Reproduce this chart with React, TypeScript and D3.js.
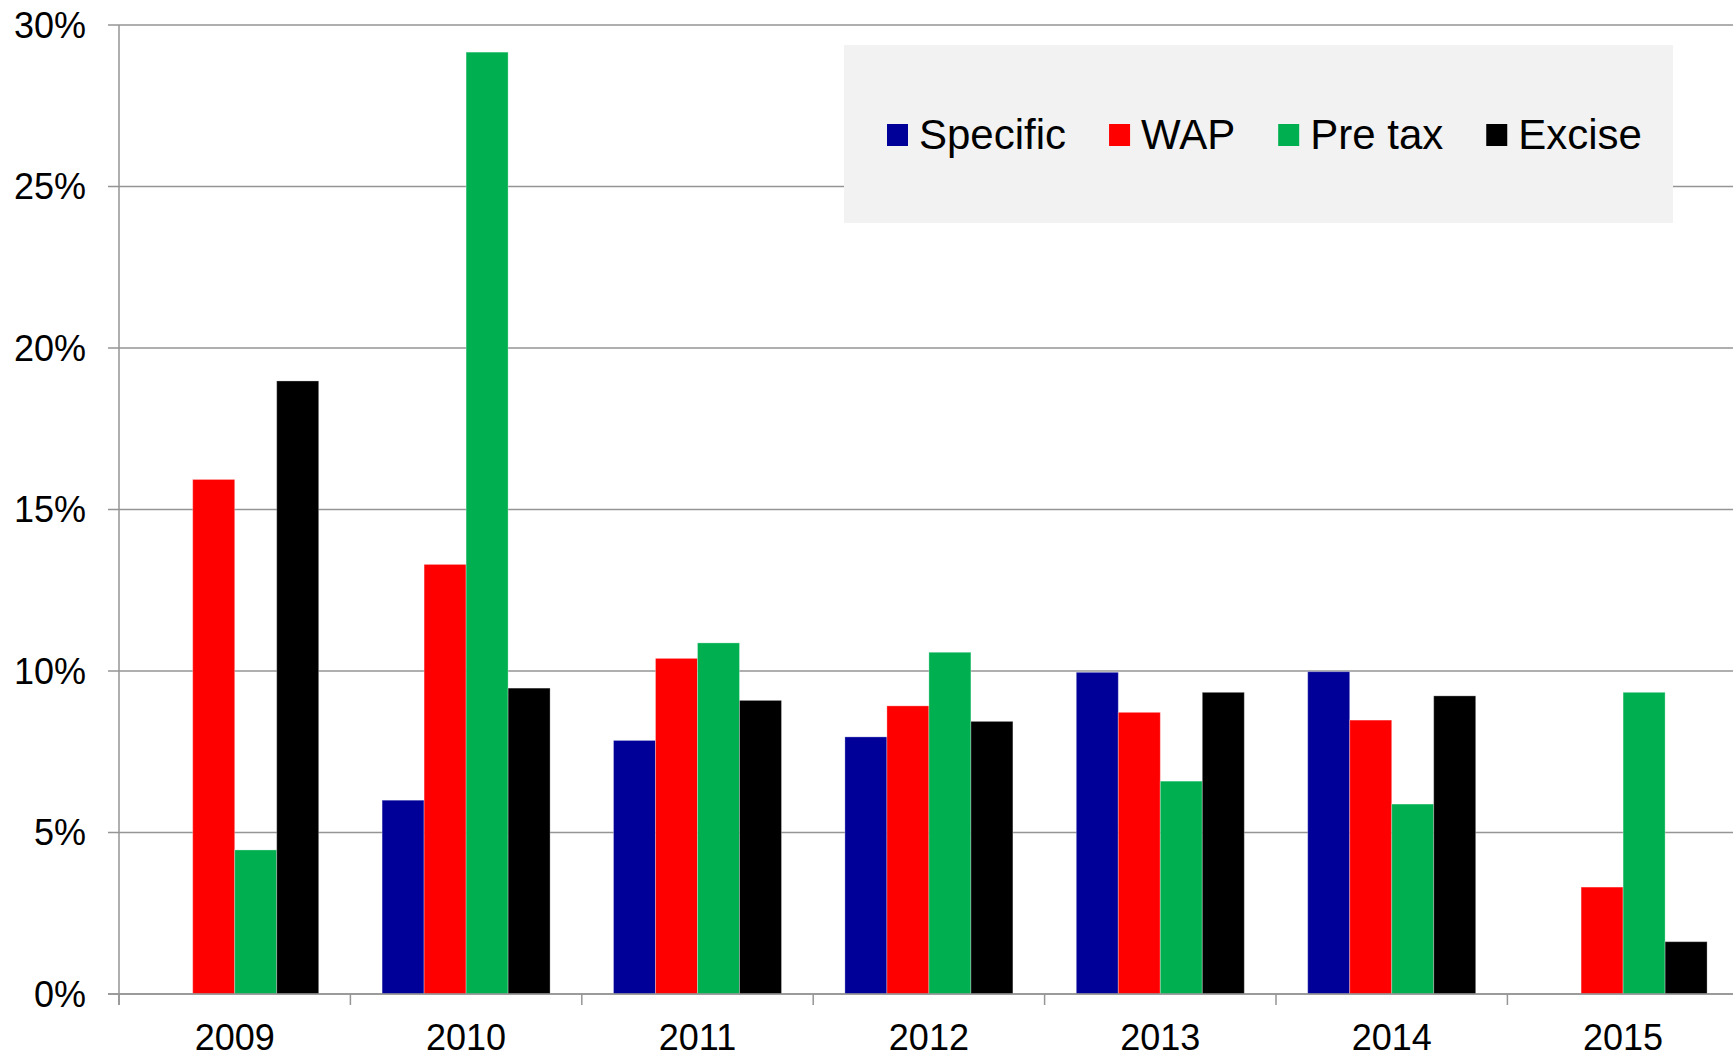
import React, { useEffect, useRef } from 'react';
import * as d3 from 'd3';

const years = ['2009', '2010', '2011', '2012', '2013', '2014', '2015'];
const seriesNames = ['Specific', 'WAP', 'Pre tax', 'Excise'];
const seriesColors = ['#000099', '#ff0000', '#00b050', '#000000'];

// values in %, null = no bar
const specific = [null, 6.0, 7.85, 7.96, 9.96, 9.98, null];
const wap = [15.93, 13.3, 10.39, 8.92, 8.72, 8.48, 3.31];
const preTax = [4.46, 29.16, 10.87, 10.58, 6.59, 5.88, 9.34];
const excise = [18.98, 9.47, 9.09, 8.44, 9.34, 9.23, 1.62];

const yTicks = [0, 5, 10, 15, 20, 25, 30];

const App = () => {
    const ref = useRef(null);

    useEffect(() => {
        if (!ref.current) return;
        const W = 1733;
        const H = 1056;
        const left = 119;
        const top = 25;
        const bottom = 994;
        const step = 231.4;

        const seriesValues = [specific, wap, preTax, excise];
        const data = years.map((yr, i) => ({
            year: yr,
            values: seriesNames.map((name, s) => ({ name, color: seriesColors[s], v: seriesValues[s][i] }))
        }));

        d3.select(ref.current).selectAll('*').remove();

        const svg = d3.select(ref.current)
            .append('svg')
            .attr('width', W)
            .attr('height', H)
            .style('display', 'block')
            .style('font-family', '"Liberation Sans", Arial, sans-serif');

        const y = d3.scaleLinear().domain([0, 30]).range([bottom, top]);

        const x0 = d3.scaleBand()
            .domain(years)
            .range([left, left + step * years.length])
            .paddingInner(0.274)
            .paddingOuter(0.137);

        const x1 = d3.scaleBand()
            .domain(seriesNames)
            .range([0, x0.bandwidth()]);

        // gridlines + y ticks
        const grid = svg.append('g');
        grid.selectAll('line')
            .data(yTicks)
            .enter()
            .append('line')
            .attr('x1', left - 11)
            .attr('x2', W)
            .attr('y1', d => y(d))
            .attr('y2', d => y(d))
            .attr('stroke', '#959595')
            .attr('stroke-width', 1.5);

        svg.append('g')
            .selectAll('text')
            .data(yTicks)
            .enter()
            .append('text')
            .attr('x', 86)
            .attr('y', d => y(d))
            .attr('dy', '0.36em')
            .attr('text-anchor', 'end')
            .attr('font-size', 36)
            .attr('fill', '#000')
            .text(d => `${d}%`);

        // bars
        const groups = svg.append('g')
            .selectAll('g')
            .data(data)
            .enter()
            .append('g')
            .attr('transform', d => `translate(${x0(d.year)},0)`);

        groups.selectAll('rect')
            .data(d => d.values.filter(v => v.v != null))
            .enter()
            .append('rect')
            .attr('x', d => x1(d.name))
            .attr('y', d => y(d.v))
            .attr('width', x1.bandwidth())
            .attr('height', d => y(0) - y(d.v))
            .attr('fill', d => d.color)
            .attr('stroke', '#ffffff')
            .attr('stroke-opacity', 0.3)
            .attr('stroke-width', 1);

        // axes lines
        svg.append('line')
            .attr('x1', left).attr('x2', left)
            .attr('y1', top).attr('y2', bottom + 11)
            .attr('stroke', '#959595').attr('stroke-width', 1.5);

        svg.append('line')
            .attr('x1', left - 11).attr('x2', W)
            .attr('y1', bottom).attr('y2', bottom)
            .attr('stroke', '#959595').attr('stroke-width', 1.5);

        const bounds = d3.range(years.length + 1).map(i => left + step * i);
        svg.append('g')
            .selectAll('line')
            .data(bounds)
            .enter()
            .append('line')
            .attr('x1', d => d).attr('x2', d => d)
            .attr('y1', bottom).attr('y2', bottom + 11)
            .attr('stroke', '#959595').attr('stroke-width', 1.5);

        svg.append('g')
            .selectAll('text')
            .data(years)
            .enter()
            .append('text')
            .attr('x', d => x0(d) + x0.bandwidth() / 2)
            .attr('y', 1050)
            .attr('text-anchor', 'middle')
            .attr('font-size', 36)
            .attr('fill', '#000')
            .text(d => d);

        // legend
        const legend = svg.append('g');
        legend.append('rect')
            .attr('x', 844).attr('y', 45)
            .attr('width', 829).attr('height', 178)
            .attr('fill', '#f2f2f2');

        let lx = 887;
        seriesNames.forEach((name, i) => {
            legend.append('rect')
                .attr('x', lx).attr('y', 124)
                .attr('width', 21).attr('height', 22)
                .attr('fill', seriesColors[i]);
            const t = legend.append('text')
                .attr('x', lx + 32)
                .attr('y', 149)
                .attr('font-size', 42)
                .attr('fill', '#000')
                .text(name);
            const w = t.node().getComputedTextLength();
            lx = lx + 32 + w + 43;
        });
    }, []);

    return (
        <div style={{ position: 'absolute', left: 0, top: 0, width: 1733, height: 1056, overflow: 'hidden', background: '#fff' }}>
            <div ref={ref} />
        </div>
    );
};

export default App;
